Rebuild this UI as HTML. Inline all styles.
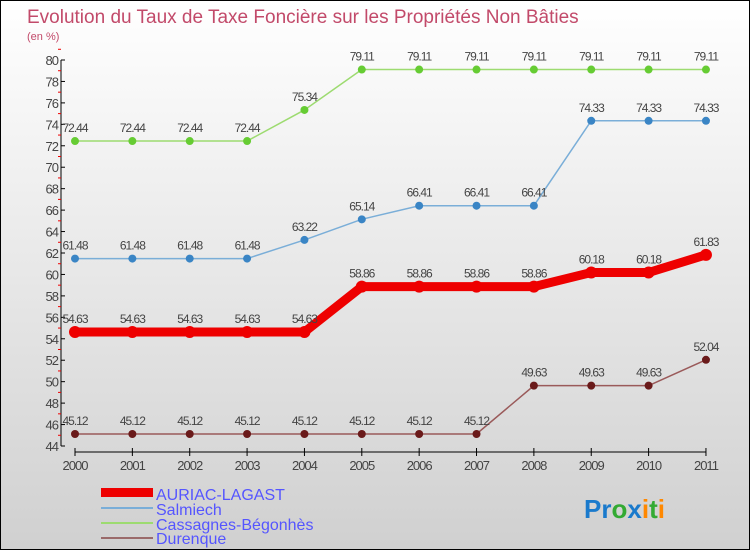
<!DOCTYPE html>
<html><head><meta charset="utf-8"><style>
body{margin:0;width:750px;height:550px;overflow:hidden}
#c{position:relative;width:748px;height:548px;border:1px solid #000;background:linear-gradient(#fff,#d0d0d0);font-family:"Liberation Sans",sans-serif}
</style></head><body>
<div id="c">
<svg width="748" height="548" xmlns="http://www.w3.org/2000/svg">
<text x="26" y="22" font-size="19" fill="#c24a6a">Evolution du Taux de Taxe Foncière sur les Propriétés Non Bâties</text>
<text x="26" y="39" font-size="11" fill="#c24a6a">(en %)</text>
<g id="axes"></g><g id="series"></g>
<g>
<rect x="100" y="487" width="52" height="9" fill="#e00"/>
<text x="155" y="499" font-size="16" fill="#55f">AURIAC-LAGAST</text>
<line x1="100" y1="507" x2="152" y2="507" stroke="#7aaed8" stroke-width="2"/>
<text x="155" y="514" font-size="16" fill="#55f">Salmiech</text>
<line x1="100" y1="522" x2="152" y2="522" stroke="#9ddb70" stroke-width="2"/>
<text x="155" y="529" font-size="16" fill="#55f">Cassagnes-Bégonhès</text>
<line x1="100" y1="537" x2="152" y2="537" stroke="#9a6a6a" stroke-width="2"/>
<text x="155" y="543" font-size="16" fill="#55f">Durenque</text>
</g>
<text x="583" y="517" font-size="26" font-weight="bold"><tspan fill="#1a7acc">Pr</tspan><tspan fill="#3a3">o</tspan><tspan fill="#1a7acc">x</tspan><tspan fill="#f80">i</tspan><tspan fill="#3a3">t</tspan><tspan fill="#f80">i</tspan></text>
</svg></div>
<script>
const years=[2000,2001,2002,2003,2004,2005,2006,2007,2008,2009,2010,2011];
const auriac=[54.63,54.63,54.63,54.63,54.63,58.86,58.86,58.86,58.86,60.18,60.18,61.83];
const salmiech=[61.48,61.48,61.48,61.48,63.22,65.14,66.41,66.41,66.41,74.33,74.33,74.33];
const cassagnes=[72.44,72.44,72.44,72.44,75.34,79.11,79.11,79.11,79.11,79.11,79.11,79.11];
const durenque=[45.12,45.12,45.12,45.12,45.12,45.12,45.12,45.12,49.63,49.63,49.63,52.04];
const yTicks=[44,46,48,50,52,54,56,58,60,62,64,66,68,70,72,74,76,78,80];
const NS="http://www.w3.org/2000/svg";
const x=i=>74+i*57.36, y=v=>59+(80-v)*(386/36);
function mk(t,a,p){const e=document.createElementNS(NS,t);for(const k in a)e.setAttribute(k,a[k]);p.appendChild(e);return e;}
const ax=document.getElementById('axes'),se=document.getElementById('series');
let l=mk('line',{x1:60,y1:y(80),x2:60,y2:y(44),stroke:'#000'},ax);


l=mk('line',{x1:x(0),y1:451,x2:x(11),y2:451,stroke:'#000'},ax);


yTicks.forEach(v=>{mk('line',{x1:60,y1:y(v),x2:64,y2:y(v),stroke:'#000'},ax);
 mk('line',{x1:57,y1:y(v+1),x2:60,y2:y(v+1),stroke:'#e00'},ax);
 const t=mk('text',{x:57,y:y(v)+5,'text-anchor':'end','font-size':13,fill:'#444','letter-spacing':'-1'},ax);t.textContent=v;
 
 });
years.forEach((yr,i)=>{mk('line',{x1:x(i),y1:447,x2:x(i),y2:455,stroke:'#000'},ax);
 const t=mk('text',{x:x(i),y:469,'text-anchor':'middle','font-size':13,fill:'#444','letter-spacing':'-1'},ax);t.textContent=yr;
 
 });
function series(d,col,dot,w,r,name){
 const p=mk('polyline',{points:d.map((v,i)=>x(i)+','+y(v)).join(' '),fill:'none',stroke:col,'stroke-width':w},se);
 
 
 d.forEach((v,i)=>{const c=mk('circle',{cx:x(i),cy:y(v),r:r,fill:dot},se);
  
  
  const t=mk('text',{x:x(i),y:y(v)-9,'text-anchor':'middle','font-size':12,fill:'#444','letter-spacing':'-1'},se);t.textContent=v.toFixed(2);
  
  });
}
series(cassagnes,'#9ddb70','#6c3',1.5,4,'cassagnes');
series(salmiech,'#7aaed8','#3a85c5',1.5,4,'salmiech');
series(durenque,'#9a5a5a','#6a1a1a',1.5,4,'durenque');
series(auriac,'#e00','#e00',9,6,'auriac');
</script>
</body></html>
